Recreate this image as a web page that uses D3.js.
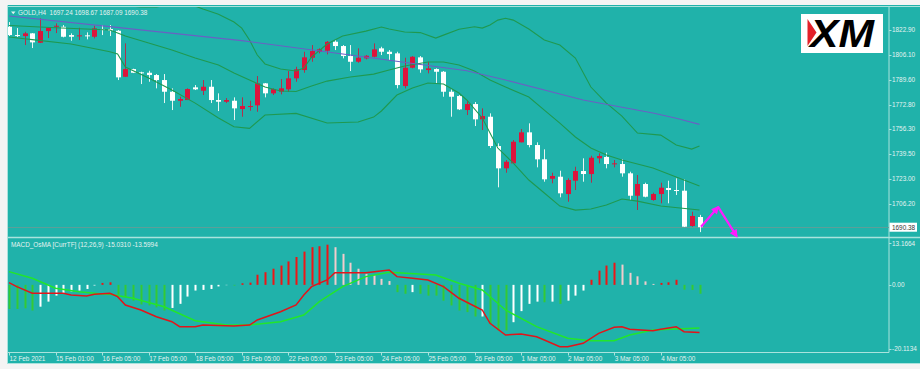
<!DOCTYPE html>
<html><head><meta charset="utf-8">
<script src="https://cdn.jsdelivr.net/npm/d3@7"></script>
<style>
html,body{margin:0;padding:0;background:#f3f3f3;}
svg{display:block;}
text{font-family:"Liberation Sans",Arial,sans-serif;}
</style></head><body>
<svg id="chart" width="920" height="369"></svg>
<script>
// ---------------- DATA ----------------
const symbol = "GOLD,H4";
const headerOHLC = ["1697.24", "1698.67", "1687.09", "1690.38"];
const macdTitle = "MACD_OsMA [CurrTF] (12,26,9) -15.0310 -13.5994";

const opens = [1825.12,1819.54,1818.87,1820.68,1814.37,1822.23,1825.39,1825.12,1819.54,1818.87,
1819.34,1818.40,1823.57,1823.57,1822.43,1791.52,1796.69,1794.47,1794.21,1792.66,
1789.30,1781.44,1775.39,1775.86,1784.39,1782.11,1784.80,1775.86,1774.72,1775.39,
1769.81,1771.63,1772.30,1787.08,1780.36,1781.44,1783.05,1790.44,1796.02,1804.29,
1808.32,1808.99,1815.04,1812.15,1805.43,1801.60,1803.88,1804.96,1810.60,1808.32,
1807.24,1785.27,1797.57,1804.55,1796.02,1796.69,1794.88,1781.44,1778.55,1769.14,
1773.17,1762.89,1764.64,1744.95,1729.96,1733.32,1747.43,1754.15,1745.62,1736.01,
1722.97,1724.32,1712.69,1721.63,1728.15,1726.13,1736.68,1737.56,1732.85,1732.85,
1726.60,1711.55,1719.41,1708.66,1712.69,1716.72,1715.38,1714.91,1691.19,1697.24];
const highs = [1828.28,1824.24,1821.76,1820.88,1830.76,1824.60,1827.40,1826.26,1820.68,1824.45,
1821.35,1825.79,1826.26,1826.26,1822.90,1813.96,1796.89,1794.88,1795.55,1793.33,
1793.33,1783.72,1778.08,1783.72,1785.94,1789.30,1789.30,1780.36,1777.20,1777.67,
1777.67,1775.39,1791.99,1787.30,1783.72,1789.97,1795.35,1798.24,1808.32,1812.82,
1810.60,1815.51,1816.18,1812.82,1812.82,1810.60,1806.10,1813.96,1811.68,1809.46,
1808.32,1804.29,1805.43,1805.43,1801.60,1797.16,1795.35,1783.05,1779.22,1775.86,
1774.52,1770.28,1766.92,1746.76,1735.54,1748.98,1756.37,1760.20,1747.43,1742.73,
1727.01,1728.35,1723.24,1731.04,1736.68,1738.43,1740.04,1740.45,1735.54,1736.01,
1727.68,1725.46,1720.29,1713.57,1720.29,1721.63,1723.24,1722.57,1700.80,1698.67];
const lows = [1818.87,1818.20,1812.82,1810.80,1814.16,1817.52,1820.88,1817.99,1815.71,1816.18,
1816.65,1817.32,1819.54,1818.87,1789.30,1791.32,1794.00,1786.61,1788.16,1783.72,
1773.84,1769.14,1771.36,1775.86,1782.58,1779.22,1773.84,1768.47,1773.84,1762.42,
1764.64,1768.67,1768.00,1777.67,1779.22,1779.69,1781.44,1788.16,1794.21,1801.60,
1807.24,1806.57,1809.46,1803.88,1795.35,1800.93,1803.21,1804.55,1806.10,1802.74,
1783.72,1783.72,1797.16,1794.21,1793.80,1787.08,1778.08,1764.64,1769.14,1765.78,
1758.39,1755.70,1743.60,1717.19,1727.01,1733.32,1747.43,1744.07,1730.63,1720.96,
1719.88,1710.47,1707.52,1715.38,1720.96,1720.29,1733.32,1729.96,1730.63,1724.32,
1708.66,1701.94,1710.47,1708.19,1706.44,1706.44,1712.02,1690.50,1690.72,1687.09];
const closes = [1819.54,1819.07,1820.68,1814.63,1822.23,1824.45,1825.79,1818.40,1818.40,1819.34,
1818.87,1824.04,1823.10,1822.43,1791.11,1796.69,1794.21,1794.21,1792.66,1789.30,
1781.44,1775.39,1776.53,1783.25,1783.05,1784.80,1775.86,1774.72,1775.86,1770.28,
1771.83,1771.83,1787.08,1780.36,1783.25,1783.72,1790.44,1796.49,1804.55,1808.79,
1809.93,1815.04,1812.15,1805.43,1801.60,1804.29,1805.63,1809.93,1808.32,1806.77,
1785.94,1797.57,1804.96,1796.49,1797.16,1794.88,1781.44,1778.08,1769.61,1773.17,
1762.89,1765.11,1744.95,1729.96,1734.40,1747.84,1754.15,1745.62,1736.01,1722.57,
1724.79,1713.16,1722.10,1728.15,1726.13,1737.09,1738.23,1732.85,1733.32,1726.60,
1711.55,1719.41,1710.88,1712.69,1716.93,1715.38,1714.91,1690.72,1697.91,1690.38];

const priceTicks = [1822.90, 1806.10, 1789.60, 1772.80, 1756.30, 1739.50, 1723.00, 1706.20];
const lastPrice = 1690.38;

const timeLabels = ["12 Feb 2021","15 Feb 01:00","16 Feb 05:00","17 Feb 05:00","18 Feb 05:00",
"19 Feb 05:00","22 Feb 05:00","23 Feb 05:00","24 Feb 05:00","25 Feb 05:00","26 Feb 05:00",
"1 Mar 05:00","2 Mar 05:00","3 Mar 05:00","4 Mar 05:00"];
const timeLabelBars = [0,6,12,18,24,30,36,42,48,54,60,66,72,78,84];

// Bollinger bands and moving average: [bar index, price]
const bbUpper = [[0,1846.4],[6,1844.4],[12,1841.0],[17,1838.4],[19,1838.4],[21,1840.4],[24,1839.0],
[25,1837.0],[27,1833.6],[29,1828.3],[30,1824.2],[31,1816.2],[32,1806.1],[33,1800.1],[35,1796.7],
[37,1795.4],[38,1797.4],[39,1804.7],[41,1813.5],[43,1818.9],[46,1822.2],[48,1824.9],[49,1823.6],
[51,1821.6],[53,1821.2],[55,1817.5],[56,1819.5],[58,1823.4],[60,1825.1],[61,1824.2],[62,1826.3],
[63,1829.6],[64,1830.8],[65,1829.6],[67,1823.6],[69,1816.2],[71,1812.8],[73,1804.1],[75,1784.6],
[77,1773.8],[79,1765.1],[81,1753.7],[84,1752.3],[86,1745.6],[88,1742.9],[89,1744.9]];
const bbMiddle = [[0,1826.0],[6,1824.5],[13,1822.9],[15,1818.9],[18,1814.2],[21,1809.5],[24,1804.1],
[27,1799.4],[29,1794.0],[31,1789.3],[33,1784.6],[35,1781.9],[37,1781.6],[39,1785.3],[41,1788.6],
[44,1791.3],[47,1793.3],[49,1796.0],[51,1798.7],[54,1801.4],[56,1801.4],[58,1799.4],[60,1795.4],
[62,1789.3],[64,1784.6],[67,1777.9],[69,1769.1],[71,1760.4],[73,1751.0],[75,1743.6],[77,1738.9],
[79,1735.5],[83,1730.2],[86,1724.1],[89,1718.1]];
const bbLower = [[0,1818.2],[3,1816.5],[8,1813.5],[13,1808.3],[14,1806.8],[15,1798.0],[18,1790.6],
[21,1782.6],[24,1773.8],[27,1763.8],[29,1757.9],[31,1756.8],[33,1765.8],[37,1766.9],[41,1760.4],
[45,1761.1],[47,1764.4],[48,1768.5],[50,1779.2],[52,1783.9],[54,1787.3],[56,1786.6],[58,1780.6],
[59,1775.9],[61,1763.8],[63,1743.6],[65,1733.5],[67,1722.1],[69,1713.4],[71,1704.6],[73,1701.9],
[75,1702.6],[77,1705.3],[79,1709.3],[81,1707.9],[84,1704.6],[89,1701.9]];
const maLine = [[0,1832.3],[13,1825.2],[30,1815.8],[44,1806.1],[59,1795.6],[64,1789.3],[74,1775.9],
[83,1767.1],[86,1763.6],[89,1759.5]];

// MACD / OsMA subwindow
const osma = [-7.6,-7.6,-7.4,-8.1,-6.9,-5.3,-3.4,-2.8,-2.1,-1.8,
-1.3,-0.2,0.6,0.8,-3.1,-3.9,-5.0,-6.2,-6.5,-7.1,
-8.1,-7.3,-6.0,-3.7,-1.8,-1.6,-1.3,-0.5,-0.1,-0.2,
0.5,0.7,3.2,4.0,5.1,6.1,7.4,8.8,10.5,11.9,
12.2,12.7,11.9,9.8,7.0,5.1,3.5,3.0,1.9,1.2,
-2.3,-2.8,-2.3,-2.8,-3.4,-3.4,-5.0,-6.5,-8.1,-8.6,
-10.0,-10.0,-12.3,-14.4,-14.4,-11.8,-8.3,-6.0,-5.3,-5.5,
-5.3,-6.0,-5.0,-3.4,-1.8,1.6,4.5,6.1,7.0,6.4,
3.8,2.7,1.1,0.3,0.6,0.8,1.6,-1.5,-1.6,-2.8];
const osmaState = ["up","up","up","up","dn","dn","dn","dn","dn","dn",
"dn","dn","pos","pos","up","up","up","up","up","up",
"up","dn","dn","dn","dn","dn","dn","dn","dn","up",
"pos","pos","pos","pos","pos","pos","pos","pos","pos","pos",
"pos","pos","fade","fade","fade","fade","fade","fade","fade","fade",
"up","up","dn","up","up","up","up","up","up","up",
"up","dn","up","up","up","dn","dn","dn","dn","up",
"dn","up","dn","dn","dn","pos","pos","pos","pos","fade",
"fade","fade","fade","fade","pos","pos","pos","up","up","up"];
const macdLine = [[0,0.7],[1,-0.57],[3,-2.66],[5,-2.66],[7,-2.66],[8,-3.2],[10,-3.5],[11,-2.97],
[13,-2.66],[14,-3.73],[15,-6.36],[17,-7.94],[19,-10.06],[21,-11.64],[22,-13.22],[24,-13.22],
[25,-12.69],[29,-13.0],[31,-12.69],[32,-11.1],[35,-8.48],[37,-6.36],[38,-3.2],[39,-0.57],
[41,1.55],[42,3.86],[46,3.86],[49,4.71],[50,2.6],[52,2.09],[54,1.55],[56,-0.57],[58,-4.24],
[61,-7.94],[62,-12.15],[64,-15.85],[66,-15.53],[68,-16.39],[69,-17.43],[71,-19.55],[72,-19.55],
[74,-18.48],[76,-15.31],[78,-13.41],[79,-13.22],[80,-14.05],[83,-14.49],[84,-14.05],[86,-13.22],
[87,-14.81],[89,-15.03]];
const signalLine = [[0,4.18],[3,2.09],[6,-1.08],[9,-2.15],[12,-2.88],[13,-2.97],[16,-4.24],
[20,-6.9],[24,-11.33],[28,-12.69],[31,-12.69],[35,-11.64],[38,-9.52],[40,-5.31],[43,-0.57],
[46,2.6],[49,3.99],[55,3.13],[58,0.51],[61,-1.61],[64,-7.94],[68,-13.22],[72,-16.89],[75,-17.65],
[78,-17.65],[80,-15.85],[83,-14.27],[86,-13.95],[89,-13.6]];
const macdTicks = [13.1664, 0, -20.1134];
const macdTickText = ["13.1664", "0.00", "-20.1134"];

// Forecast arrows (bar index, price)
const forecast = [[89.2,1690.7],[91.4,1704.0],[93.8,1684.2]];

// ---------------- DRAW ----------------
const svg = d3.select("#chart");
const W = 920, H = 369;
const left = 7.5, axisX = 889, mainTop = 6.5, mainBot = 237.5, subTop = 238.5, subBot = 352.5;
const bg = "#20b2aa", frame = "#a9e3dd", txt = "#e4f3f1";

const x = d3.scaleLinear().domain([0, 89]).range([9, 699.5]);
const y = d3.scaleLinear().domain([1683.8, 1838.4]).range([237, 7]);
const ym = d3.scaleLinear().domain([-20.1134, 13.1664]).range([348.5, 243.2]);

svg.append("rect").attr("x", 0).attr("y", 0).attr("width", W).attr("height", H).attr("fill", "#f4f4f4");
svg.append("rect").attr("x", 7).attr("y", 5).attr("width", W - 7).attr("height", 359).attr("fill", bg);

const defs = svg.append("defs");
defs.append("clipPath").attr("id", "clipMain").append("rect")
  .attr("x", 8).attr("y", 7).attr("width", axisX - 8).attr("height", 230);
defs.append("clipPath").attr("id", "clipSub").append("rect")
  .attr("x", 8).attr("y", 239).attr("width", axisX - 8).attr("height", 113);
defs.append("marker").attr("id", "arrowHead").attr("viewBox", "0 0 10 10")
  .attr("refX", 8).attr("refY", 5).attr("markerWidth", 9).attr("markerHeight", 8)
  .attr("markerUnits", "userSpaceOnUse").attr("orient", "auto")
  .append("path").attr("d", "M0,0 L10,5 L0,10 Z").attr("fill", "#ff1aff");

// frame lines
const fr = svg.append("g").attr("stroke", frame).attr("fill", "none");
fr.append("line").attr("x1", 7).attr("x2", W).attr("y1", mainTop).attr("y2", mainTop).attr("stroke-width", 1.2);
fr.append("line").attr("x1", left).attr("x2", left).attr("y1", 5).attr("y2", 364);
fr.append("line").attr("x1", 7).attr("x2", W).attr("y1", mainBot).attr("y2", mainBot).attr("stroke-width", 1.6);
fr.append("line").attr("x1", axisX).attr("x2", axisX).attr("y1", mainTop).attr("y2", subBot);
fr.append("line").attr("x1", 7).attr("x2", axisX).attr("y1", subBot).attr("y2", subBot);
fr.append("line").attr("x1", 7).attr("x2", W).attr("y1", 363.5).attr("y2", 363.5).attr("stroke-width", 1.2);

// current price line
svg.append("line").attr("x1", 8).attr("x2", axisX).attr("y1", Math.round(y(lastPrice)) + 0.5)
  .attr("y2", Math.round(y(lastPrice)) + 0.5).attr("stroke", "#5c9f99").attr("stroke-width", 1);

// XM logo
const logo = svg.append("g");
logo.append("rect").attr("x", 801).attr("y", 14).attr("width", 82).attr("height", 39).attr("fill", "#ffffff");
logo.append("path").attr("d", "M807.5,19 L816.5,32.5 L807.5,46 Z").attr("fill", "#e32129");
logo.append("text").attr("x", 810).attr("y", 46.5).attr("font-family", "'DejaVu Sans',sans-serif")
  .attr("font-weight", "bold").attr("font-style", "italic").attr("font-size", 39)
  .attr("textLength", 64).attr("lengthAdjust", "spacingAndGlyphs").attr("fill", "#000").text("XM");

// candles
const candles = opens.map((o, i) => ({i, o, h: highs[i], l: lows[i], c: closes[i]}));
const cg = svg.append("g").attr("clip-path", "url(#clipMain)");
const bull = "#dc143c", bear = "#ffffff";
cg.selectAll("line.wick").data(candles).join("line").attr("class", "wick")
  .attr("x1", d => Math.round(x(d.i)) + 0.5).attr("x2", d => Math.round(x(d.i)) + 0.5)
  .attr("y1", d => y(d.h)).attr("y2", d => y(d.l))
  .attr("stroke", d => d.c > d.o ? "#b0304c" : "#e8f6f4").attr("stroke-width", 1);
cg.selectAll("rect.body").data(candles).join("rect").attr("class", "body")
  .attr("x", d => Math.round(x(d.i)) - 2)
  .attr("width", 5)
  .attr("y", d => y(Math.max(d.o, d.c)))
  .attr("height", d => Math.max(1, Math.abs(y(d.o) - y(d.c))))
  .attr("fill", d => d.c > d.o ? bull : bear);

// indicator lines on main chart
const lineMain = d3.line().x(d => x(d[0])).y(d => y(d[1]));
const ig = svg.append("g").attr("clip-path", "url(#clipMain)").attr("fill", "none");
[bbUpper, bbMiddle, bbLower].forEach(s => {
  ig.append("path").attr("d", lineMain(s)).attr("stroke", "#1f9950").attr("stroke-width", 1.1);
});
ig.append("path").attr("d", lineMain(maLine)).attr("stroke", "#6a60c4").attr("stroke-width", 1.1);

// forecast arrows
const fg = svg.append("g").attr("fill", "none").attr("stroke", "#ff1aff").attr("stroke-width", 2.2);
for (let k = 0; k < forecast.length - 1; k++) {
  fg.append("line").attr("x1", x(forecast[k][0])).attr("y1", y(forecast[k][1]))
    .attr("x2", x(forecast[k + 1][0])).attr("y2", y(forecast[k + 1][1]))
    .attr("marker-end", "url(#arrowHead)");
}

// price axis
const pa = svg.append("g");
pa.selectAll("line").data(priceTicks).join("line")
  .attr("x1", axisX).attr("x2", axisX + 2.5).attr("y1", d => Math.round(y(d)) + 0.5).attr("y2", d => Math.round(y(d)) + 0.5)
  .attr("stroke", frame);
pa.selectAll("text").data(priceTicks).join("text")
  .attr("x", 892).attr("y", d => y(d)).attr("dy", "0.36em")
  .attr("font-size", 6.4).attr("fill", txt).text(d => d.toFixed(2));
pa.append("rect").attr("x", 889.5).attr("y", y(lastPrice) - 4.5).attr("width", 27.5).attr("height", 9).attr("fill", "#ffffff");
pa.append("text").attr("x", 892).attr("y", y(lastPrice)).attr("dy", "0.36em")
  .attr("font-size", 6.4).attr("fill", "#333").text(lastPrice.toFixed(2));

// header
svg.append("path").attr("d", "M11,11.5 L15.5,11.5 L13.25,14.2 Z").attr("fill", txt);
svg.append("text").attr("x", 18).attr("y", 15).attr("font-size", 6.4).attr("fill", txt)
  .attr("xml:space", "preserve").text(symbol + "  " + headerOHLC.join(" "));

// MACD subwindow
const sg = svg.append("g").attr("clip-path", "url(#clipSub)");
const histColor = {up: "#34c934", dn: "#ffffff", pos: "#ee1515", fade: "#f2cccc"};
sg.selectAll("rect.hist").data(osma).join("rect").attr("class", "hist")
  .attr("x", (d, i) => Math.round(x(i)) - 0.5).attr("width", 2)
  .attr("y", d => ym(Math.max(0, d))).attr("height", d => Math.abs(ym(d) - ym(0)))
  .attr("fill", (d, i) => histColor[osmaState[i]]);
const lineSub = d3.line().x(d => x(d[0])).y(d => ym(d[1]));
sg.append("path").attr("d", lineSub(signalLine)).attr("fill", "none").attr("stroke", "#22e62a").attr("stroke-width", 1.5);
sg.append("path").attr("d", lineSub(macdLine)).attr("fill", "none").attr("stroke", "#e3141a").attr("stroke-width", 1.5);

svg.append("text").attr("x", 11).attr("y", 246.5).attr("font-size", 6.4).attr("fill", txt).text(macdTitle);
const ma = svg.append("g");
ma.selectAll("line").data(macdTicks).join("line")
  .attr("x1", axisX).attr("x2", axisX + 2.5).attr("y1", d => Math.round(ym(d)) + 0.5).attr("y2", d => Math.round(ym(d)) + 0.5)
  .attr("stroke", frame);
ma.selectAll("text").data(macdTicks).join("text")
  .attr("x", 892).attr("y", d => ym(d)).attr("dy", "0.36em")
  .attr("font-size", 6.4).attr("fill", txt).text((d, i) => macdTickText[i]);

// time axis
const ta = svg.append("g");
ta.selectAll("line").data(timeLabelBars).join("line")
  .attr("x1", d => Math.round(x(d)) + 0.5).attr("x2", d => Math.round(x(d)) + 0.5)
  .attr("y1", subBot).attr("y2", subBot + 3).attr("stroke", frame);
ta.selectAll("text").data(timeLabelBars).join("text")
  .attr("x", d => x(d) + 0.5).attr("y", 360.5)
  .attr("font-size", 6.4).attr("fill", txt).text((d, i) => timeLabels[i]);
</script>
</body></html>
